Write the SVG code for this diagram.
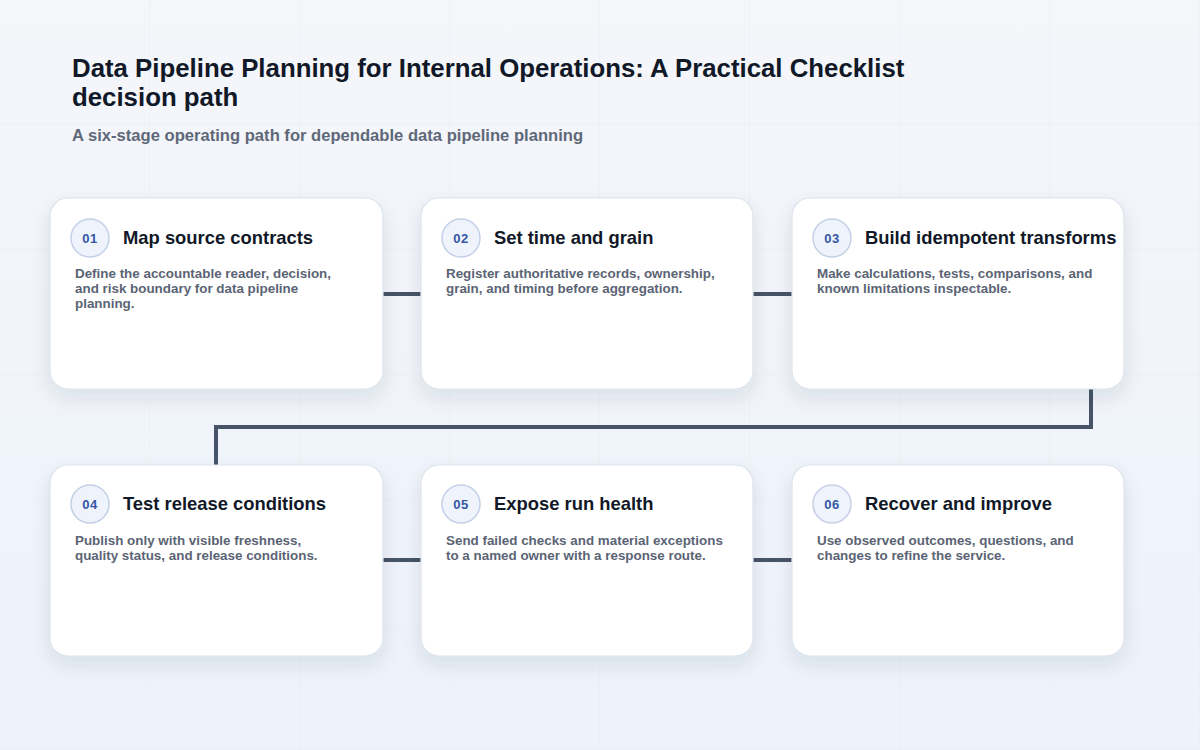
<svg xmlns="http://www.w3.org/2000/svg" width="1200" height="750" viewBox="0 0 1200 750">
<defs>
<linearGradient id="bg" x1="0" y1="0" x2="0" y2="1">
<stop offset="0" stop-color="#f4f6fa"/>
<stop offset="1" stop-color="#edf2fb"/>
</linearGradient>
<pattern id="grid" width="150" height="125" patternUnits="userSpaceOnUse">
<path d="M150 0V125M0 125H150" fill="none" stroke="#e8ecf2" stroke-width="1"/>
</pattern>
<filter id="shadow" x="-20%" y="-20%" width="140%" height="150%">
<feDropShadow dx="0" dy="8" stdDeviation="9" flood-color="#1e293b" flood-opacity="0.10"/>
</filter>
</defs>
<style>
.card{fill:#ffffff;stroke:#dde3ec;stroke-width:1.2;filter:url(#shadow)}
.badge{fill:#eef3fc;stroke:#c3d0e8;stroke-width:1.5}
.num{font-family:"Liberation Sans",Arial,sans-serif;font-weight:700;font-size:13px;fill:#3556a3;text-anchor:middle;letter-spacing:0.5px}
.ttl{font-family:"Liberation Sans",Arial,sans-serif;font-weight:700;font-size:18.4px;fill:#111827}
.desc{font-family:"Liberation Sans",Arial,sans-serif;font-weight:700;font-size:13.4px;fill:#5b6474}
.conn{fill:none;stroke:#475467;stroke-width:4}
.h1{font-family:"Liberation Sans",Arial,sans-serif;font-weight:700;font-size:25.8px;fill:#111827}
.sub{font-family:"Liberation Sans",Arial,sans-serif;font-weight:700;font-size:16.6px;fill:#5f6878}
</style>
<rect width="1200" height="750" fill="url(#bg)"/>
<rect width="1200" height="750" fill="url(#grid)"/>

<g id="header">
<text class="h1" x="72" y="77">Data Pipeline Planning for Internal Operations: A Practical Checklist</text>
<text class="h1" x="72" y="106">decision path</text>
<text class="sub" x="72" y="141">A six-stage operating path for dependable data pipeline planning</text>
</g>

<g id="connectors">
<path class="conn" d="M383 294H421"/>
<path class="conn" d="M753 294H792"/>
<path class="conn" d="M1091 389V427H216V465"/>
<path class="conn" d="M383 560H421"/>
<path class="conn" d="M753 560H792"/>
</g>

<g id="node1">
<rect class="card" x="50" y="198" width="333" height="191" rx="18"/>
<circle class="badge" cx="90" cy="238" r="19"/>
<text class="num" x="90" y="243">01</text>
<text class="ttl" x="123" y="244">Map source contracts</text>
<text class="desc" x="75" y="278">Define the accountable reader, decision,</text>
<text class="desc" x="75" y="293">and risk boundary for data pipeline</text>
<text class="desc" x="75" y="308">planning.</text>
</g>

<g id="node2">
<rect class="card" x="421" y="198" width="332" height="191" rx="18"/>
<circle class="badge" cx="461" cy="238" r="19"/>
<text class="num" x="461" y="243">02</text>
<text class="ttl" x="494" y="244">Set time and grain</text>
<text class="desc" x="446" y="278">Register authoritative records, ownership,</text>
<text class="desc" x="446" y="293">grain, and timing before aggregation.</text>
</g>

<g id="node3">
<rect class="card" x="792" y="198" width="332" height="191" rx="18"/>
<circle class="badge" cx="832" cy="238" r="19"/>
<text class="num" x="832" y="243">03</text>
<text class="ttl" x="865" y="244">Build idempotent transforms</text>
<text class="desc" x="817" y="278">Make calculations, tests, comparisons, and</text>
<text class="desc" x="817" y="293">known limitations inspectable.</text>
</g>

<g id="node4">
<rect class="card" x="50" y="465" width="333" height="191" rx="18"/>
<circle class="badge" cx="90" cy="504" r="19"/>
<text class="num" x="90" y="509">04</text>
<text class="ttl" x="123" y="510">Test release conditions</text>
<text class="desc" x="75" y="545">Publish only with visible freshness,</text>
<text class="desc" x="75" y="560">quality status, and release conditions.</text>
</g>

<g id="node5">
<rect class="card" x="421" y="465" width="332" height="191" rx="18"/>
<circle class="badge" cx="461" cy="504" r="19"/>
<text class="num" x="461" y="509">05</text>
<text class="ttl" x="494" y="510">Expose run health</text>
<text class="desc" x="446" y="545">Send failed checks and material exceptions</text>
<text class="desc" x="446" y="560">to a named owner with a response route.</text>
</g>

<g id="node6">
<rect class="card" x="792" y="465" width="332" height="191" rx="18"/>
<circle class="badge" cx="832" cy="504" r="19"/>
<text class="num" x="832" y="509">06</text>
<text class="ttl" x="865" y="510">Recover and improve</text>
<text class="desc" x="817" y="545">Use observed outcomes, questions, and</text>
<text class="desc" x="817" y="560">changes to refine the service.</text>
</g>
</svg>
